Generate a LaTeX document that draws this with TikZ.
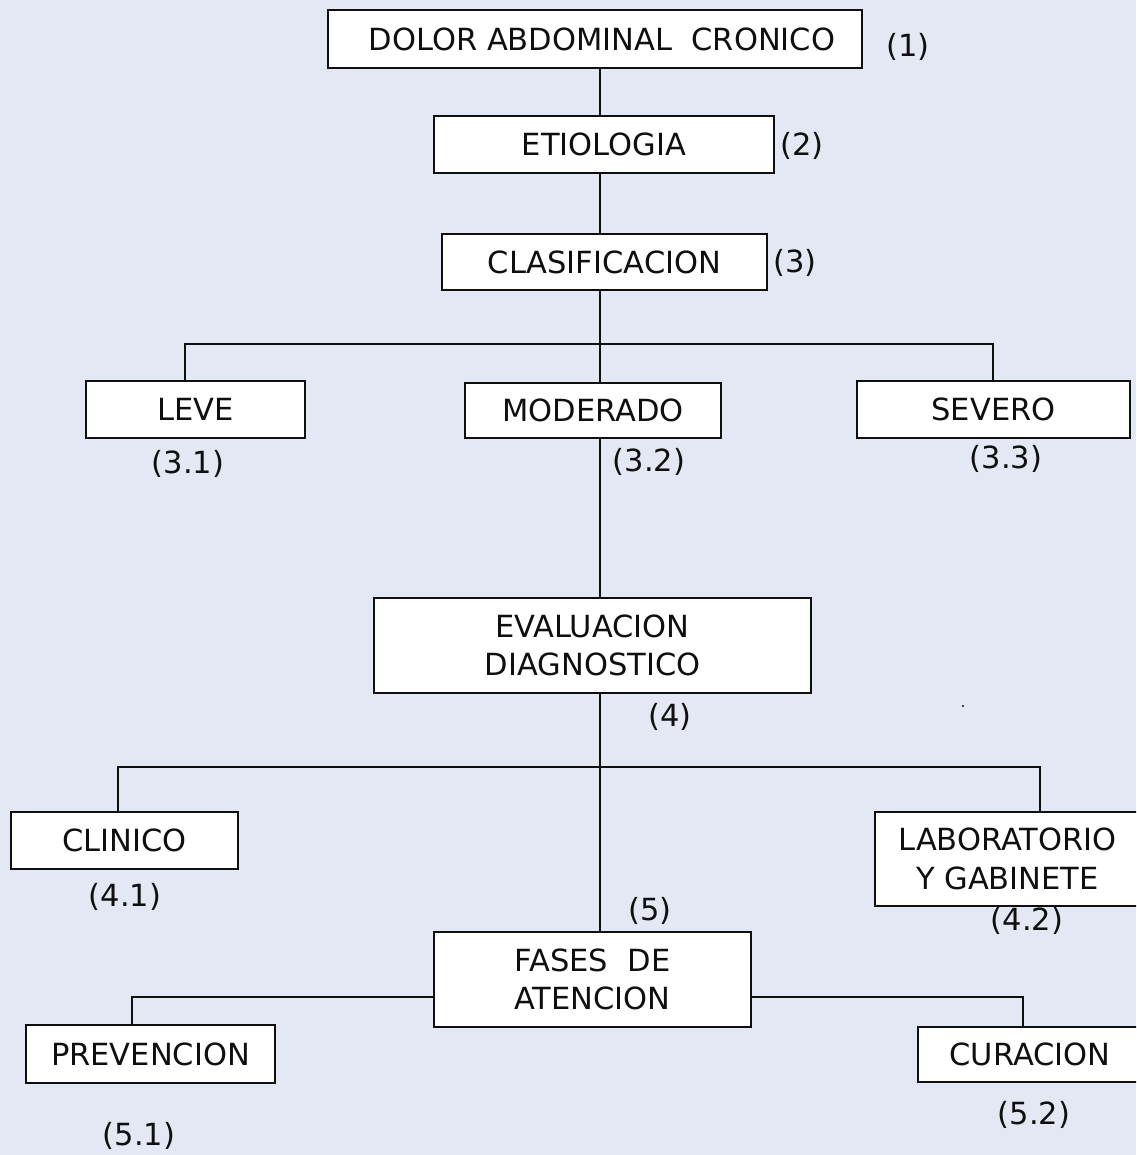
\documentclass[tikz,border=0pt]{standalone}
\usepackage{fontspec}
\setmainfont{DejaVu Sans}
\definecolor{paper}{RGB}{228,232,244}
\definecolor{ink}{RGB}{15,15,15}
\begin{document}
\begin{tikzpicture}[x=1pt,y=-1pt,
  box/.style={draw=ink, fill=white, line width=2pt, inner sep=0pt,
    align=center, text=ink, font=\fontsize{30.5}{38.6}\selectfont},
  tag/.style={inner sep=0pt, text=ink, font=\fontsize{30.5}{36}\selectfont},
  link/.style={draw=ink, line width=2pt}]
\fill[paper] (0,0) rectangle (1136,1155);
\useasboundingbox (0,0) rectangle (1136,1155);
\clip (0,0) rectangle (1136,1155);

% boxes
\node[box, minimum width=534, minimum height=58] (dolor) at (595,39) {\hspace*{14pt}DOLOR ABDOMINAL\ \ CRONICO};
\node[box, minimum width=340, minimum height=57] (etio) at (604,144.5) {ETIOLOGIA};
\node[box, minimum width=325, minimum height=56] (clas) at (604.5,262) {CLASIFICACION};
\node[box, minimum width=219, minimum height=57] (leve) at (195.5,409.5) {LEVE};
\node[box, minimum width=256, minimum height=55] (mod) at (593,410.5) {MODERADO};
\node[box, minimum width=273, minimum height=57] (sev) at (993.5,409.5) {SEVERO};
\node[box, minimum width=437, minimum height=95] (eval) at (592.5,645.5) {EVALUACION\\DIAGNOSTICO};
\node[box, minimum width=227, minimum height=57] (clin) at (124.5,840.5) {CLINICO};
\node[box, minimum width=265, minimum height=94] (lab) at (1007.5,859) {LABORATORIO\\Y GABINETE};
\node[box, minimum width=317, minimum height=95] (fases) at (592.5,979.5) {FASES\ \ DE\\ATENCION};
\node[box, minimum width=249, minimum height=58] (prev) at (150.5,1054) {PREVENCION};
\node[box, minimum width=224, minimum height=55] (cur) at (1030,1054.5) {CURACION};

% numbering
\node[tag] (t1) at (908,47) {(1)};
\node[tag] (t2) at (802,146) {(2)};
\node[tag] (t3) at (795,263) {(3)};
\node[tag] (t31) at (188,464) {(3.1)};
\node[tag] (t32) at (649,462) {(3.2)};
\node[tag] (t33) at (1006,459) {(3.3)};
\node[tag] (t4) at (670,717) {(4)};
\node[tag] (t41) at (125,897) {(4.1)};
\node[tag] (t5) at (650,911) {(5)};
\node[tag] (t42) at (1027,921) {(4.2)};
\node[tag] (t51) at (139,1136) {(5.1)};
\node[tag] (t52) at (1034,1115) {(5.2)};

% routing points
\coordinate (trunk) at (600,0);
\coordinate (b1L) at (185,344);
\coordinate (b1R) at (993,344);
\coordinate (b2L) at (118,767);
\coordinate (b2R) at (1040,767);
\coordinate (b3L) at (132,997);
\coordinate (b3R) at (1023,997);

% connectors
\draw[link] (dolor.south -| trunk) -- (etio.north -| trunk);
\draw[link] (etio.south -| trunk) -- (clas.north -| trunk);
\draw[link] (clas.south -| trunk) -- (mod.north -| trunk);
\draw[link] (leve.north -| b1L) -- (b1L) -- (b1R) -- (sev.north -| b1R);
\draw[link] (mod.south -| trunk) -- (eval.north -| trunk);
\draw[link] (eval.south -| trunk) -- (fases.north -| trunk);
\draw[link] (clin.north -| b2L) -- (b2L) -- (b2R) -- (lab.north -| b2R);
\draw[link] (fases.west |- b3L) -- (b3L) -- (prev.north -| b3L);
\draw[link] (fases.east |- b3R) -- (b3R) -- (cur.north -| b3R);

% stray mark
\fill[ink] (963,706) circle (1.2);
\end{tikzpicture}
\end{document}
